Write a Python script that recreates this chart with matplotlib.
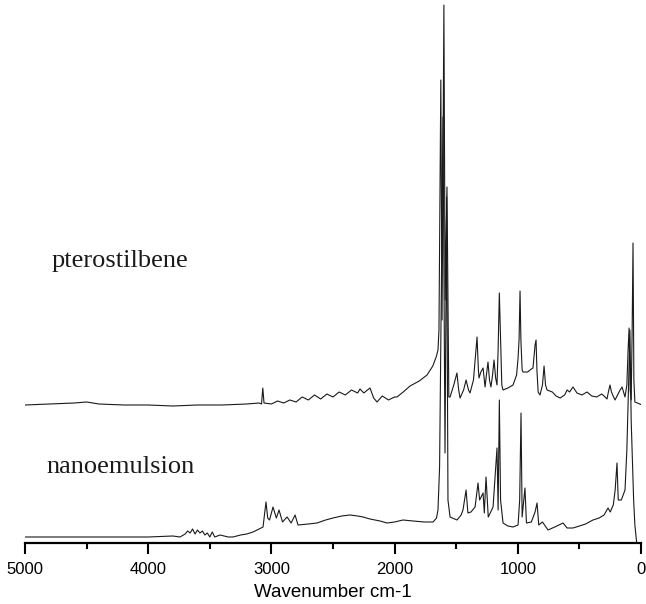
import matplotlib
matplotlib.use('Agg')
import matplotlib.pyplot as plt
from matplotlib.ticker import MultipleLocator
import numpy as np

# pterostilbene spectrum (wavenumber, intensity above its own baseline)
ptero_wn = [5000, 4800, 4600, 4500, 4400, 4200, 4000, 3800, 3600, 3400, 3200, 3100,
            3080, 3070, 3060, 3000, 2950, 2900, 2850, 2800, 2750, 2700, 2650, 2600,
            2550, 2500, 2450, 2400, 2350, 2300, 2281, 2250, 2200, 2170, 2143, 2100,
            2050, 2000, 1981, 1930, 1875, 1800, 1737, 1690, 1660, 1648, 1640, 1625,
            1615, 1600, 1590, 1575, 1560, 1550, 1520, 1494, 1480, 1469, 1440, 1420,
            1400, 1388, 1360, 1331, 1320, 1315, 1300, 1282, 1266, 1255, 1242, 1230,
            1218, 1205, 1193, 1180, 1169, 1160, 1150, 1140, 1130, 1120, 1080, 1039,
            1010, 998, 990, 982, 975, 965, 958, 920, 890, 877, 860, 852, 845, 835,
            820, 800, 787, 775, 763, 720, 690, 657, 620, 600, 580, 552, 520, 480,
            438, 400, 360, 320, 300, 276, 265, 252, 240, 230, 211, 190, 170, 154,
            140, 130, 115, 105, 97, 88, 80, 72, 65, 58, 50, 30, -10]
ptero_int = [0, 1, 2, 3, 1, 0, 0, -1, 0, 0, 1, 2,
             1, 17, 2, 1, 4, 2, 5, 3, 8, 5, 10, 6,
             11, 8, 13, 10, 15, 12, 16, 12, 17, 7, 3, 9,
             5, 8, 8, 13, 19, 24, 30, 39, 49, 55, 75, 325,
             85, 400, 105, 218, 8, 8, 20, 32, 15, 7, 15, 25,
             15, 12, 25, 68, 35, 27, 33, 37, 18, 30, 43, 25,
             18, 30, 45, 27, 20, 55, 112, 65, 20, 15, 17, 20,
             30, 47, 65, 114, 65, 35, 33, 33, 36, 37, 60, 65, 35, 13,
             10, 20, 39, 20, 15, 13, 9, 7, 10, 15, 13, 18, 12, 10,
             13, 9, 8, 11, 9, 6, 13, 20, 13, 10, 5, 10, 15, 18,
             12, 8, 20, 55, 77, 15, 5, 75, 162, 25, 3, 2, 0]

# nanoemulsion spectrum
nano_wn = [5000, 4800, 4600, 4400, 4200, 4000, 3800, 3742, 3700, 3680, 3660, 3640,
           3620, 3600, 3580, 3560, 3540, 3520, 3500, 3480, 3460, 3417, 3350, 3312,
           3250, 3200, 3149, 3100, 3068, 3044, 3030, 3015, 2987, 2960, 2938, 2910,
           2873, 2840, 2808, 2784, 2700, 2630, 2560, 2500, 2430, 2362, 2300, 2256,
           2200, 2118, 2062, 2000, 1932, 1850, 1760, 1688, 1660, 1648, 1635, 1607,
           1591, 1578, 1567, 1550, 1494, 1460, 1445, 1420, 1405, 1380, 1347, 1323,
           1310, 1282, 1272, 1258, 1240, 1220, 1201, 1169, 1160, 1150, 1140, 1120,
           1080, 1039, 998, 985, 974, 965, 942, 930, 890, 860, 844, 830, 800, 755,
           700, 633, 600, 552, 500, 450, 390, 340, 300, 268, 250, 225, 210, 195,
           185, 160, 130, 115, 100, 90, 80, 70, 60, 50, 40, 35]
nano_int = [0, 0, 0, 0, 0, 0, 1, 0, 3, 6, 4, 8,
            3, 7, 4, 6, 2, 4, 0, 5, 0, 2, 0, 0,
            2, 3, 5, 8, 10, 35, 19, 17, 30, 19, 27, 15,
            20, 14, 22, 12, 13, 14, 17, 19, 21, 22, 21, 20,
            18, 16, 14, 15, 17, 16, 15, 15, 19, 27, 70, 420,
            84, 340, 37, 20, 17, 22, 27, 47, 24, 25, 30, 54,
            37, 44, 24, 60, 20, 25, 30, 89, 27, 137, 37, 14,
            11, 10, 12, 37, 124, 20, 49, 14, 15, 25, 34, 12, 15, 7,
            10, 14, 9, 9, 11, 13, 17, 19, 22, 29, 25, 32, 47, 74,
            37, 37, 47, 87, 157, 207, 117, 77, 37, 12, 0, -6]

ptero_offset = 138
nano_offset = 6

fig = plt.figure(figsize=(6.46, 6.04), dpi=100)
ax = fig.add_axes([0.0387, 0.101, 0.9536, 0.899])

ax.plot(ptero_wn, np.array(ptero_int) + ptero_offset, color='#1a1a1a', linewidth=0.8)
ax.plot(nano_wn, np.array(nano_int) + nano_offset, color='#1a1a1a', linewidth=0.8)

ax.set_xlim(5000, 0)
ax.set_ylim(0, 543)
for s in ['left', 'right', 'top']:
    ax.spines[s].set_visible(False)
ax.spines['bottom'].set_linewidth(1.6)
ax.set_yticks([])
ax.xaxis.set_major_locator(MultipleLocator(1000))
ax.xaxis.set_minor_locator(MultipleLocator(500))
ax.tick_params(axis='x', which='major', direction='out', length=8, width=1.5, pad=6)
ax.tick_params(axis='x', which='minor', direction='out', length=4.5, width=1.5)
for lab in ax.get_xticklabels():
    lab.set_fontfamily('Liberation Sans')
    lab.set_fontsize(12)
ax.set_xlabel('Wavenumber cm-1', fontfamily='Liberation Sans', fontsize=13.5, labelpad=5)
ax.set_facecolor('none')

fig.text(0.0805, 0.558, 'pterostilbene', fontfamily='Liberation Serif', fontsize=19,
         va='baseline', ha='left', color='#1a1a1a')
fig.text(0.0712, 0.217, 'nanoemulsion', fontfamily='Liberation Serif', fontsize=19,
         va='baseline', ha='left', color='#1a1a1a')

fig.savefig('out.png', dpi=100)
